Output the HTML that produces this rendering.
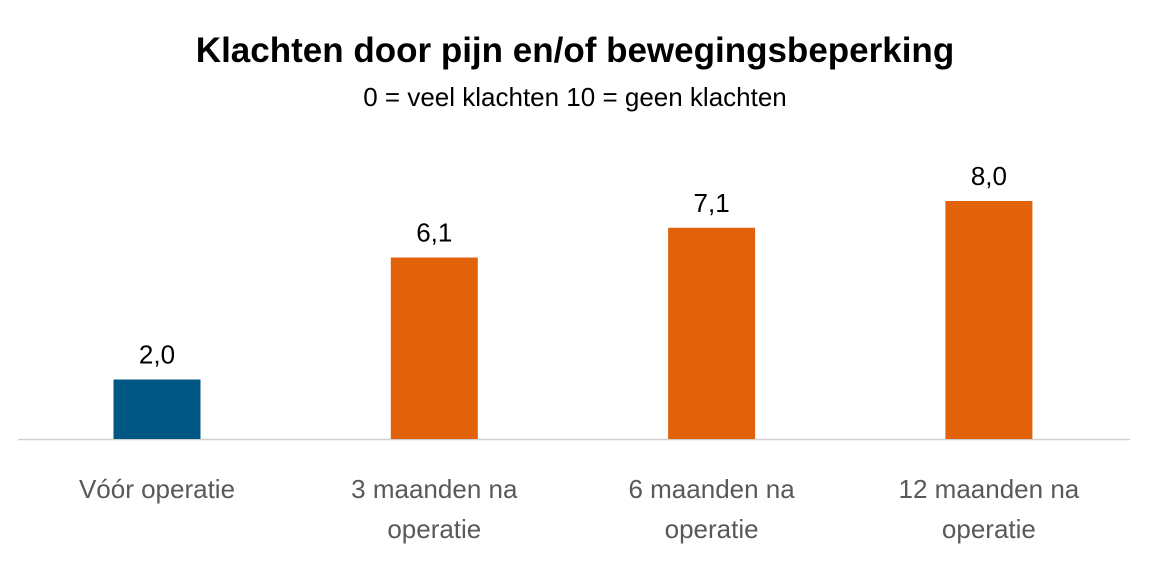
<!DOCTYPE html>
<html><head><meta charset="utf-8"><style>
body{margin:0;background:#fff;}
svg{display:block;font-family:"Liberation Sans",Carlito,sans-serif;}
</style></head><body>
<svg id="chart" width="1149" height="562">
<text x="575" y="62" text-anchor="middle" font-size="35" font-weight="bold" fill="#000">Klachten door pijn en/of bewegingsbeperking</text>
<text x="575" y="106" text-anchor="middle" font-size="26" fill="#000">0 = veel klachten  10 = geen klachten</text>
<line x1="18" y1="439.5" x2="1130" y2="439.5" stroke="#d0d0d0" stroke-width="1.5"/>
<g id="bars"></g>
</svg>
<script>
const categories1=["Vóór operatie","3 maanden na","6 maanden na","12 maanden na"];
const categories2=["","operatie","operatie","operatie"];
const values=[2.0,6.1,7.1,8.0];
const labels=["2,0","6,1","7,1","8,0"];
const colors=["#005783","#e2620a","#e2620a","#e2620a"];
const base=439,scale=29.75,x0=157,step=277.3,bw=87;
const g=document.getElementById('bars');
const ns="http://www.w3.org/2000/svg";
function x(i){return x0+i*step;}
function y(v){return base-v*scale;}
values.forEach((v,i)=>{
 const r=document.createElementNS(ns,'rect');
 
 
 r.setAttribute('x',x(i)-bw/2);r.setAttribute('y',y(v));
 r.setAttribute('width',bw);r.setAttribute('height',base-y(v));
 r.setAttribute('fill',colors[i]);g.appendChild(r);
 const t=document.createElementNS(ns,'text');
 
 
 t.setAttribute('x',x(i));t.setAttribute('y',y(v)-16);
 t.setAttribute('text-anchor','middle');t.setAttribute('font-size','26');
 t.textContent=labels[i];g.appendChild(t);
 [categories1[i],categories2[i]].forEach((s,j)=>{
  if(!s)return;
  const c=document.createElementNS(ns,'text');
  
  
  c.setAttribute('x',x(i));c.setAttribute('y',498+j*40);
  c.setAttribute('text-anchor','middle');c.setAttribute('font-size','26');
  c.setAttribute('fill','#595959');c.textContent=s;g.appendChild(c);
 });
});
</script>
</body></html>
